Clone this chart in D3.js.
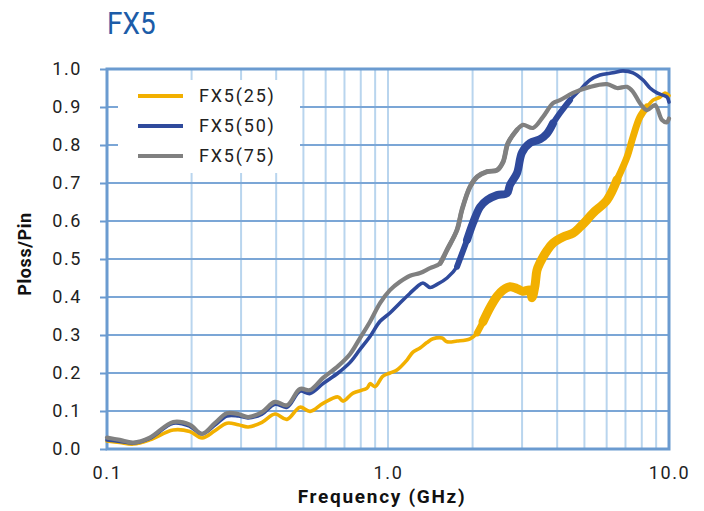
<!DOCTYPE html>
<html>
<head>
<meta charset="utf-8">
<script src="https://cdn.jsdelivr.net/npm/d3@7/dist/d3.min.js"></script>
<style>
  html, body { margin: 0; padding: 0; background: #fff; }
  svg { display: block; }
  text { font-family: Roboto, "Noto Sans", sans-serif; }
</style>
</head>
<body>
<svg id="chart" width="704" height="511"></svg>
<script>
// Power-loss ratio vs. frequency for FX5 at three settings
const seriesNames = ["FX5(25)", "FX5(50)", "FX5(75)"];
const seriesColors = ["#f2b000", "#2f4a9c", "#808080"];

const freq25 = [0.100, 0.111, 0.124, 0.142, 0.172, 0.197, 0.218, 0.242, 0.267, 0.293, 0.318, 0.356, 0.396, 0.437, 0.486, 0.528, 0.587, 0.664, 0.692, 0.751, 0.842, 0.863, 0.899, 0.960, 1.016, 1.076, 1.168, 1.227, 1.300, 1.376, 1.446, 1.557, 1.622, 1.761, 1.958, 2.074, 2.179, 2.307, 2.444, 2.566, 2.718, 2.878, 3.022, 3.201, 3.254, 3.335, 3.389, 3.475, 3.680, 3.866, 4.196, 4.554, 4.823, 5.109, 5.365, 6.017, 6.530, 7.088, 7.445, 7.884, 8.350, 8.771, 9.290, 9.678, 10.0];
const val25 = [0.021, 0.017, 0.013, 0.024, 0.050, 0.046, 0.029, 0.048, 0.068, 0.064, 0.058, 0.070, 0.092, 0.078, 0.110, 0.099, 0.120, 0.137, 0.126, 0.147, 0.160, 0.172, 0.164, 0.192, 0.200, 0.208, 0.234, 0.255, 0.266, 0.280, 0.290, 0.292, 0.282, 0.284, 0.290, 0.305, 0.335, 0.372, 0.402, 0.418, 0.427, 0.422, 0.415, 0.418, 0.398, 0.430, 0.470, 0.490, 0.522, 0.542, 0.558, 0.568, 0.584, 0.603, 0.621, 0.655, 0.708, 0.768, 0.821, 0.874, 0.900, 0.918, 0.926, 0.937, 0.930];

const freq50 = [0.100, 0.111, 0.124, 0.142, 0.172, 0.197, 0.218, 0.242, 0.267, 0.293, 0.318, 0.356, 0.396, 0.437, 0.486, 0.528, 0.587, 0.664, 0.733, 0.795, 0.863, 0.937, 1.016, 1.103, 1.198, 1.269, 1.332, 1.411, 1.494, 1.622, 1.761, 1.911, 2.007, 2.126, 2.252, 2.444, 2.651, 2.718, 2.878, 2.998, 3.201, 3.475, 3.680, 3.866, 4.094, 4.444, 4.823, 5.235, 5.682, 6.320, 6.859, 7.445, 8.081, 8.557, 9.064, 9.443, 9.837, 10.0];
const val50 = [0.024, 0.020, 0.016, 0.028, 0.068, 0.060, 0.040, 0.063, 0.087, 0.087, 0.082, 0.092, 0.118, 0.110, 0.152, 0.146, 0.172, 0.200, 0.228, 0.262, 0.296, 0.336, 0.358, 0.384, 0.410, 0.427, 0.437, 0.425, 0.433, 0.450, 0.480, 0.550, 0.595, 0.637, 0.655, 0.668, 0.673, 0.695, 0.726, 0.780, 0.805, 0.815, 0.830, 0.857, 0.884, 0.918, 0.945, 0.971, 0.984, 0.990, 0.995, 0.990, 0.971, 0.950, 0.937, 0.932, 0.926, 0.913];

const freq75 = [0.100, 0.111, 0.124, 0.142, 0.172, 0.197, 0.218, 0.242, 0.267, 0.293, 0.318, 0.356, 0.396, 0.437, 0.486, 0.528, 0.587, 0.664, 0.733, 0.795, 0.863, 0.937, 1.016, 1.103, 1.198, 1.300, 1.411, 1.532, 1.622, 1.761, 1.834, 1.958, 2.074, 2.252, 2.444, 2.566, 2.673, 2.878, 3.022, 3.281, 3.561, 3.866, 4.094, 4.554, 5.235, 6.017, 6.530, 7.088, 7.445, 7.884, 8.350, 8.916, 9.443, 9.837, 10.0];
const val75 = [0.030, 0.024, 0.017, 0.030, 0.071, 0.064, 0.040, 0.068, 0.094, 0.092, 0.084, 0.097, 0.124, 0.115, 0.158, 0.155, 0.187, 0.218, 0.250, 0.292, 0.335, 0.384, 0.418, 0.440, 0.456, 0.463, 0.476, 0.488, 0.524, 0.577, 0.630, 0.690, 0.716, 0.730, 0.734, 0.755, 0.805, 0.840, 0.853, 0.845, 0.874, 0.910, 0.918, 0.937, 0.953, 0.960, 0.950, 0.953, 0.940, 0.910, 0.892, 0.905, 0.866, 0.860, 0.870];

// Frequency spans where each trace shows heavy measurement ripple,
// with the apparent trace thickness inside each span (spans overlap
// so the thickened pieces join without a notch)
const rippleBands = [
  [[1.96, 2.31, 6.5], [2.17, 6.6, 9], [6.0, 8.6, 7]],
  [[1.72, 2.01, 6], [1.91, 3.9, 8], [3.86, 4.6, 6]],
  [[1.5, 2.9, 4.8]]
];
const baseWidths = [3.6, 3.6, 4.2];

const xTicks = [0.1, 1, 10];
const xTickLabels = ["0.1", "1.0", "10.0"];
const yTicks = [0, 0.1, 0.2, 0.3, 0.4, 0.5, 0.6, 0.7, 0.8, 0.9, 1.0];

const series = [
  { freq: freq25, val: val25 },
  { freq: freq50, val: val50 },
  { freq: freq75, val: val75 }
];

const svg = d3.select("#chart");
const plotL = 107, plotR = 669, plotT = 69, plotB = 449;

const x = d3.scaleLog().domain([0.1, 10]).range([plotL, plotR]);
const y = d3.scaleLinear().domain([0, 1]).range([plotB, plotT]);

const gridMajor = "#7ba6d6";
const gridMinor = "#b9d5ee";
const frameColor = "#6b9bd0";

// minor vertical grid at every log subdivision
const minorX = [];
for (const dec of [0.1, 1]) for (let k = 2; k <= 10; k++) minorX.push(dec * k);
svg.append("g").selectAll("line").data(minorX.filter(v => v < 10)).join("line")
  .attr("x1", d => x(d)).attr("x2", d => x(d))
  .attr("y1", plotT).attr("y2", plotB)
  .attr("stroke", gridMinor).attr("stroke-width", 2);

// horizontal grid
svg.append("g").selectAll("line").data(yTicks.slice(1, -1)).join("line")
  .attr("x1", plotL).attr("x2", plotR)
  .attr("y1", d => y(d)).attr("y2", d => y(d))
  .attr("stroke", gridMajor).attr("stroke-width", 2);

// y axis with outward ticks
const yAxis = d3.axisLeft(y).tickValues(yTicks).tickFormat(d3.format(".1f")).tickSize(7).tickPadding(18);
const gy = svg.append("g").attr("transform", `translate(${plotL},0)`).call(yAxis);
gy.select(".domain").remove();
gy.selectAll(".tick line").attr("stroke", frameColor).attr("stroke-width", 2);
gy.selectAll(".tick text")
  .attr("font-size", 18).attr("fill", "#222").attr("letter-spacing", "1.6px")
  .style("font-family", "Roboto, sans-serif");

// x axis labels
const xAxis = d3.axisBottom(x).tickValues(xTicks)
  .tickFormat((d, i) => xTickLabels[i]).tickSize(0).tickPadding(17);
const gx = svg.append("g").attr("transform", `translate(0,${plotB})`).call(xAxis);
gx.select(".domain").remove();
gx.selectAll(".tick text")
  .attr("font-size", 18).attr("fill", "#222").attr("letter-spacing", "1.6px")
  .style("font-family", "Roboto, sans-serif");

// plot frame
svg.append("rect")
  .attr("x", plotL).attr("y", plotT)
  .attr("width", plotR - plotL).attr("height", plotB - plotT)
  .attr("fill", "none").attr("stroke", frameColor).attr("stroke-width", 3);

// traces
const line = d3.line().x(d => x(d[0])).y(d => y(d[1])).curve(d3.curveCatmullRom.alpha(0.5));
const plot = svg.append("g");
series.forEach((s, i) => {
  const pts = s.freq.map((f, j) => [f, s.val[j]]);
  plot.append("path").datum(pts)
    .attr("d", line).attr("fill", "none")
    .attr("stroke", seriesColors[i]).attr("stroke-width", baseWidths[i])
    .attr("stroke-linejoin", "round").attr("stroke-linecap", "round");
  rippleBands[i].forEach(([f0, f1, w]) => {
    const band = pts.filter(p => p[0] >= f0 && p[0] <= f1);
    plot.append("path").datum(band)
      .attr("d", line).attr("fill", "none")
      .attr("stroke", seriesColors[i]).attr("stroke-width", w)
      .attr("stroke-linejoin", "round").attr("stroke-linecap", "round");
  });
});

// legend
const lg = svg.append("g");
lg.append("rect").attr("x", 118).attr("y", 80).attr("width", 182).attr("height", 93).attr("fill", "#fff");
seriesNames.forEach((name, i) => {
  const cy = 96 + i * 30;
  lg.append("line").attr("x1", 138).attr("x2", 183).attr("y1", cy).attr("y2", cy)
    .attr("stroke", seriesColors[i]).attr("stroke-width", 4);
  lg.append("text").attr("x", 199).attr("y", cy).attr("dy", "0.35em")
    .attr("font-size", 18).attr("fill", "#222").attr("letter-spacing", "1.8px")
    .text(name);
});

// title
svg.append("text").attr("transform", "translate(107,34) scale(0.9,1)")
  .attr("font-size", 31).attr("fill", "#1c5ca8").text("FX5");

// axis titles
svg.append("text").attr("x", 382).attr("y", 503).attr("text-anchor", "middle")
  .attr("font-size", 19).attr("font-weight", "bold").attr("fill", "#111")
  .attr("letter-spacing", "1.7px").text("Frequency (GHz)");
svg.append("text").attr("transform", "translate(31,254) rotate(-90)")
  .attr("text-anchor", "middle")
  .attr("font-size", 18).attr("font-weight", "bold").attr("fill", "#111")
  .attr("letter-spacing", "0.6px")
  .text("Ploss/Pin");
</script>
</body>
</html>
